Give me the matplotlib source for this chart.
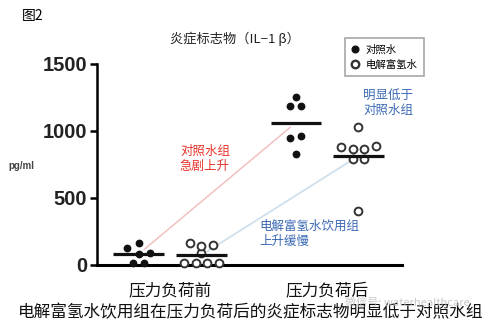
import numpy as np
import matplotlib
matplotlib.use("Agg")
from matplotlib import pyplot as plt
from matplotlib.lines import Line2D

plt.rcParams['font.family'] = ['Noto Sans CJK SC', 'DejaVu Sans']

# IL-1 beta (pg/ml) per animal, before / after stress load
groups = ['压力负荷前', '压力负荷后']
ctrl_pre = [9, 9, 121, 78, 88, 158]
ctrl_post = [824, 941, 959, 1185, 1185, 1252]
h2_pre = [9, 9, 9, 9, 84, 158, 140, 145]
h2_post = [401, 787, 787, 874, 859, 859, 884, 1028]
yticks = [0, 500, 1000, 1500]

W, H = 493, 328


def fig_xy(x, y):
    """pixel position (from top-left) -> figure fraction"""
    return x / W, 1 - y / H


def row_layout(ax, xc, vals, row_h=7.0, gap=11.5):
    """Column-scatter layout: values close in height share a row and
    are spread symmetrically around the group centre."""
    vals = np.asarray(vals, float)
    disp = ax.transData.transform(np.column_stack([np.full(len(vals), xc), vals]))
    ys = disp[:, 1]
    order = np.argsort(ys, kind='stable')
    rows, cur, start = [], [], None
    for i in order:
        if cur and ys[i] - start > row_h:
            rows.append(cur)
            cur = []
        if not cur:
            start = ys[i]
        cur.append(i)
    rows.append(cur)
    dx = np.zeros(len(vals))
    for r in rows:
        r = sorted(r)
        n = len(r)
        for k, i in enumerate(r):
            dx[i] = (k - (n - 1) / 2) * gap
    back = ax.transData.inverted().transform(np.column_stack([disp[:, 0] + dx, ys]))
    return back[:, 0]


fig = plt.figure(figsize=(W / 100, H / 100), dpi=100)
ax = fig.add_axes([97 / W, 63.5 / H, 305 / W, 201 / H])
ax.set_xlim(-0.93, 2.955)
ax.set_ylim(0, 1500)

cat_x = np.arange(len(groups)) * 2.0
shift = 0.4
half = 0.32

series = [
    (cat_x[0] - shift, ctrl_pre, True),
    (cat_x[0] + shift, h2_pre, False),
    (cat_x[1] - shift, ctrl_post, True),
    (cat_x[1] + shift, h2_post, False),
]

means = {}
for xc, vals, filled in series:
    xs = row_layout(ax, xc, vals)
    if filled:
        ax.plot(xs, vals, 'o', ms=4.6, color='#111111', mec='#111111',
                ls='none', clip_on=False, zorder=4)
    else:
        ax.plot(xs, vals, 'o', ms=5.6, mfc='white', mec='#333333', mew=1.4,
                ls='none', clip_on=False, zorder=4)
    m = np.mean(vals)
    means[xc] = m
    ax.plot([xc - half, xc + half], [m, m], color='#111111', lw=2.3,
            solid_capstyle='butt', zorder=5)

# trend lines between group means
ax.annotate('', xy=(series[2][0], means[series[2][0]]),
            xytext=(series[0][0], means[series[0][0]]),
            arrowprops=dict(arrowstyle='-', color='#f3c0c0', lw=1.1,
                            shrinkA=5, shrinkB=5), zorder=2)
ax.annotate('', xy=(series[3][0], means[series[3][0]]),
            xytext=(series[1][0], means[series[1][0]]),
            arrowprops=dict(arrowstyle='-', color='#cfe0ec', lw=1.3,
                            shrinkA=5, shrinkB=5), zorder=2)

for s in ['top', 'right']:
    ax.spines[s].set_visible(False)
ax.spines['left'].set_linewidth(1.8)
ax.spines['bottom'].set_linewidth(2.2)
ax.set_yticks(yticks)
ax.set_yticklabels([str(v) for v in yticks], fontfamily='Liberation Sans',
                   fontweight='bold', fontsize=14.5, color='#222222')
ax.tick_params(axis='y', length=5, width=1.8, pad=2)
ax.set_xticks(cat_x)
ax.set_xticklabels(groups, fontsize=12, color='#111111')
ax.tick_params(axis='x', length=0, pad=13)

# texts around the plot
fig.text(*fig_xy(22, 16), '图2', fontsize=10, va='center', ha='left')
fig.text(*fig_xy(235, 39), '炎症标志物（IL−1 β）', fontsize=9.5, va='center',
         ha='center', color='#222222')
fig.text(*fig_xy(8, 166), 'pg/ml', fontsize=7, fontweight='bold', va='center',
         ha='left', color='#444444', family='Liberation Sans')

fig.text(*fig_xy(180, 159), '对照水组\n急剧上升', fontsize=9, color='#e8322a',
         va='center', ha='left', linespacing=1.25)
fig.text(*fig_xy(363, 103), '明显低于\n对照水组', fontsize=9, color='#3a68b4',
         va='center', ha='left', linespacing=1.25)
fig.text(*fig_xy(259, 234), '电解富氢水饮用组\n上升缓慢', fontsize=9, color='#3a68b4',
         va='center', ha='left', linespacing=1.25)

handles = [Line2D([], [], marker='o', ls='none', ms=4.8, color='#111111'),
           Line2D([], [], marker='o', ls='none', ms=5.4, mfc='white',
                  mec='#333333', mew=1.7)]
leg = fig.legend(handles, ['对照水', '电解富氢水'], loc='upper left',
                 bbox_to_anchor=fig_xy(345, 38), borderaxespad=0, fontsize=7.5,
                 frameon=True, fancybox=False, handlelength=0.8,
                 handletextpad=0.6, labelspacing=0.5, borderpad=0.6)
leg.get_frame().set_edgecolor('#9a9a9a')
leg.get_frame().set_linewidth(1.3)

fig.text(*fig_xy(251, 313), '电解富氢水饮用组在压力负荷后的炎症标志物明显低于对照水组',
         fontsize=12, va='center', ha='center', color='#111111')
fig.text(*fig_xy(345, 303), '微信号: waterhealthcare', fontsize=8,
         va='center', ha='left', color='#bbbbbb', alpha=0.8, zorder=10)

fig.savefig('out.png', dpi=100)
